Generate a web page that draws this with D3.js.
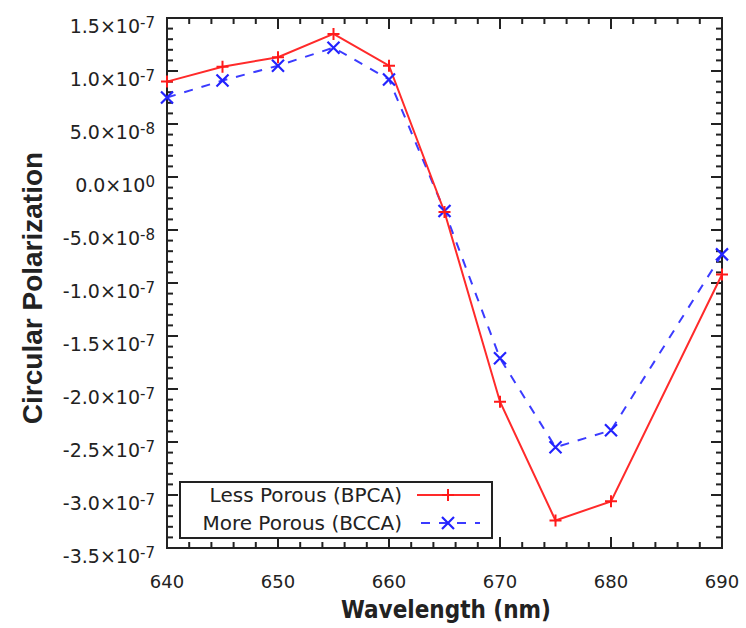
<!DOCTYPE html>
<html>
<head>
<meta charset="utf-8">
<script src="https://cdn.jsdelivr.net/npm/d3@7"></script>
<style>
  body { margin: 0; background: #fff; }
  text { font-family: "DejaVu Sans", Verdana, sans-serif; fill: #222; }
</style>
</head>
<body>
<script>
(function () {
    'use strict';

    // wavelengths (nm)
    var wavelengths = [640, 645, 650, 655, 660, 665, 670, 675, 680, 690];
    // circular polarization
    var lessPorous = [9.0e-8, 1.04e-7, 1.13e-7, 1.35e-7, 1.05e-7, -3.3e-8, -2.12e-7, -3.24e-7, -3.06e-7, -9.2e-8];
    var morePorous = [7.5e-8, 9.1e-8, 1.05e-7, 1.22e-7, 9.2e-8, -3.2e-8, -1.71e-7, -2.55e-7, -2.39e-7, -7.3e-8];
    var seriesNames = ['Less Porous (BPCA)', 'More Porous (BCCA)'];
    var yTicks = [1.5e-7, 1.0e-7, 5.0e-8, 0, -5.0e-8, -1.0e-7, -1.5e-7, -2.0e-7, -2.5e-7, -3.0e-7, -3.5e-7];
    var xTicks = [640, 650, 660, 670, 680, 690];

    var width = 746, height = 628;
    var margin = { top: 18, right: 24, bottom: 80, left: 167 };
    var plotW = width - margin.left - margin.right;
    var plotH = height - margin.top - margin.bottom;

    var svg = d3.select('body').append('svg')
        .attr('width', width)
        .attr('height', height);

    var x = d3.scaleLinear().domain([640, 690]).range([0, plotW]);
    var y = d3.scaleLinear().domain([-3.5e-7, 1.5e-7]).range([plotH, 0]);

    var g = svg.append('g').attr('transform', 'translate(' + margin.left + ',' + margin.top + ')');

    // minor/major ticks, inward on all four sides
    var xMinor = d3.range(640, 690.01, 2);
    var yMinor = d3.range(-35, 15.01, 1).map(function (v) { return v * 1e-8; });

    function isMajorX(v) { return Math.abs(v % 10) < 1e-6; }
    function isMajorY(v) { return Math.abs(Math.round(v / 1e-8)) % 5 === 0; }

    var tickG = g.append('g').attr('stroke', '#222').attr('stroke-width', 2);
    xMinor.forEach(function (v) {
        var len = isMajorX(v) ? 11 : 6;
        tickG.append('line').attr('x1', x(v)).attr('x2', x(v)).attr('y1', plotH).attr('y2', plotH - len);
        tickG.append('line').attr('x1', x(v)).attr('x2', x(v)).attr('y1', 0).attr('y2', len);
    });
    yMinor.forEach(function (v) {
        var len = isMajorY(v) ? 11 : 6;
        tickG.append('line').attr('x1', 0).attr('x2', len).attr('y1', y(v)).attr('y2', y(v));
        tickG.append('line').attr('x1', plotW).attr('x2', plotW - len).attr('y1', y(v)).attr('y2', y(v));
    });

    g.append('rect')
        .attr('width', plotW).attr('height', plotH)
        .attr('fill', 'none').attr('stroke', '#222').attr('stroke-width', 2);

    // x tick labels
    g.selectAll('.xlab').data(xTicks).enter().append('text')
        .attr('class', 'xlab')
        .attr('x', function (d) { return x(d); })
        .attr('y', plotH + 40)
        .attr('text-anchor', 'middle')
        .style('font-size', '18px')
        .text(function (d) { return d; });

    // y tick labels in a×10^b form
    function sciParts(v) {
        if (v === 0) return ['0.0', '0'];
        var e = Math.floor(Math.log10(Math.abs(v)));
        var m = v / Math.pow(10, e);
        return [m.toFixed(1), String(e)];
    }
    yTicks.forEach(function (v) {
        var p = sciParts(v);
        var t = g.append('text')
            .attr('x', -12)
            .attr('y', y(v) + 15)
            .attr('text-anchor', 'end')
            .style('font-size', '19px');
        t.append('tspan').text(p[0] + '×10');
        t.append('tspan').attr('dy', -5).style('font-size', '15px').text(p[1]);
    });

    // lines
    var line = d3.line()
        .x(function (d) { return x(d[0]); })
        .y(function (d) { return y(d[1]); });

    var redData = d3.zip(wavelengths, lessPorous);
    var blueData = d3.zip(wavelengths, morePorous);

    var plot = g.append('g');

    plot.append('path').datum(blueData)
        .attr('d', line)
        .attr('fill', 'none').attr('stroke', '#3b3bff').attr('stroke-width', 2)
        .attr('stroke-dasharray', '9,9');

    plot.append('path').datum(redData)
        .attr('d', line)
        .attr('fill', 'none').attr('stroke', '#ff2a2a').attr('stroke-width', 2);

    function plusMark(sel, cx, cy, s, col) {
        sel.append('path')
            .attr('d', 'M' + (cx - s) + ',' + cy + 'H' + (cx + s) + 'M' + cx + ',' + (cy - s) + 'V' + (cy + s))
            .attr('stroke', col).attr('stroke-width', 2).attr('fill', 'none');
    }
    function crossMark(sel, cx, cy, s, col) {
        sel.append('path')
            .attr('d', 'M' + (cx - s) + ',' + (cy - s) + 'L' + (cx + s) + ',' + (cy + s) +
                'M' + (cx - s) + ',' + (cy + s) + 'L' + (cx + s) + ',' + (cy - s))
            .attr('stroke', col).attr('stroke-width', 2.2).attr('fill', 'none');
    }

    blueData.forEach(function (d) { crossMark(plot, x(d[0]), y(d[1]), 6, '#2323ff'); });
    redData.forEach(function (d) { plusMark(plot, x(d[0]), y(d[1]), 6, '#ff1a1a'); });

    // legend
    var lg = g.append('g').attr('transform', 'translate(13,' + (482 - margin.top) + ')');
    lg.append('rect').attr('width', 312).attr('height', 56)
        .attr('fill', '#fff').attr('stroke', '#222').attr('stroke-width', 2);
    var legendCols = ['#ff2a2a', '#3b3bff'];
    seriesNames.forEach(function (name, i) {
        var ry = 13 + i * 28;
        lg.append('text').attr('x', 222).attr('y', ry + 7)
            .attr('text-anchor', 'end').style('font-size', '20px').text(name);
        var ln = lg.append('line').attr('x1', 237).attr('x2', 300).attr('y1', ry).attr('y2', ry)
            .attr('stroke', legendCols[i]).attr('stroke-width', 2);
        if (i === 1) {
            ln.attr('stroke-dasharray', '9,9').attr('stroke-dashoffset', -4);
            crossMark(lg, 268, ry, 6, '#2323ff');
        } else {
            plusMark(lg, 268, ry, 6, '#ff1a1a');
        }
    });

    // axis titles
    svg.append('text')
        .attr('x', 446)
        .attr('y', 618)
        .attr('text-anchor', 'middle')
        .style('font-family', '"DejaVu Sans Condensed", "DejaVu Sans", sans-serif')
        .style('font-size', '24px').style('font-weight', 'bold')
        .text('Wavelength (nm)');

    svg.append('text')
        .attr('transform', 'translate(42,288) rotate(-90)')
        .attr('text-anchor', 'middle')
        .style('font-family', '"Liberation Sans", Arial, sans-serif')
        .style('font-size', '28px').style('font-weight', 'bold')
        .text('Circular Polarization');
})();
</script>
</body>
</html>
